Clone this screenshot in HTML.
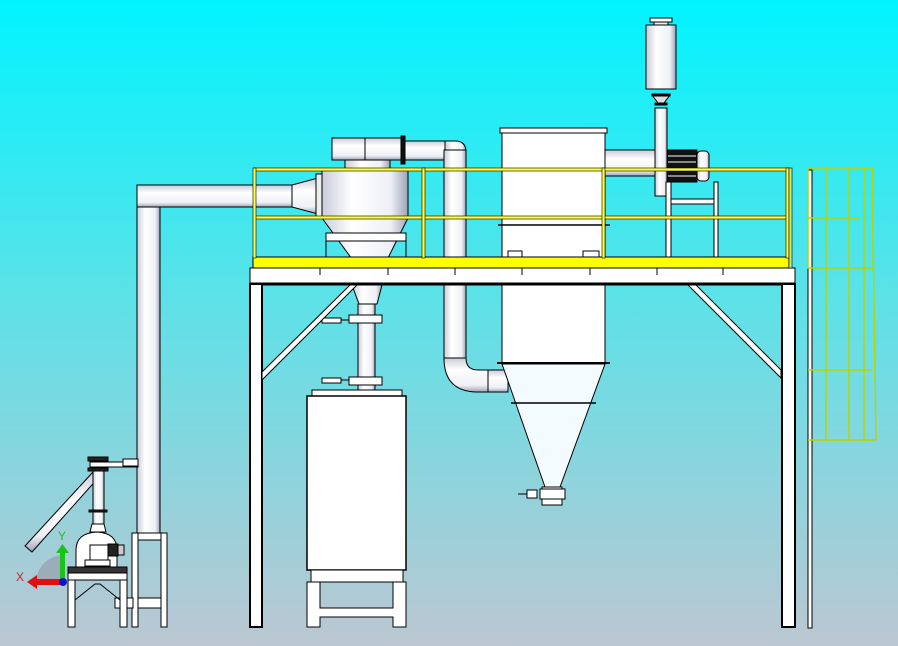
<!DOCTYPE html>
<html><head><meta charset="utf-8"><style>html,body{margin:0;padding:0;width:898px;height:646px;overflow:hidden}svg{display:block}</style></head><body>
<svg width="898" height="646" viewBox="0 0 898 646" xmlns="http://www.w3.org/2000/svg" font-family="Liberation Sans, sans-serif">
<defs>
<linearGradient id="bg" x1="0" y1="0" x2="0" y2="1">
<stop offset="0" stop-color="#00f4ff"/><stop offset="0.45" stop-color="#5ae2e8"/><stop offset="1" stop-color="#bcc7d2"/></linearGradient>
<linearGradient id="cylV" x1="0" y1="0" x2="1" y2="0">
<stop offset="0" stop-color="#c9ccd8"/><stop offset="0.35" stop-color="#ffffff"/><stop offset="0.8" stop-color="#eef0f6"/><stop offset="1" stop-color="#9ea2b4"/></linearGradient>
<linearGradient id="cylH" x1="0" y1="0" x2="0" y2="1">
<stop offset="0" stop-color="#c9ccd8"/><stop offset="0.35" stop-color="#ffffff"/><stop offset="0.8" stop-color="#eef0f6"/><stop offset="1" stop-color="#9ea2b4"/></linearGradient>
</defs>
<rect width="898" height="646" fill="url(#bg)"/>
<g stroke="#000" stroke-width="1">
<!-- left big pipe -->
<rect x="137" y="185" width="23" height="350" fill="url(#cylV)"/>
<rect x="137" y="185" width="155" height="22" fill="url(#cylH)"/>
<path d="M292 185 L318 178 L318 214 L292 207 Z" fill="url(#cylH)"/>
<rect x="316" y="174" width="6" height="44" fill="#eee"/>
<rect x="132" y="533" width="35" height="7" fill="#fff"/>
<rect x="132" y="533" width="6" height="94" fill="#fff"/><rect x="161" y="533" width="6" height="94" fill="#fff"/>
<rect x="138" y="598" width="23" height="10" fill="#fff"/>
<rect x="115" y="598" width="18" height="10" fill="#fff"/>
<!-- small mill -->
<path d="M25 546 L93 472 L99 477 L32 552 Z" fill="url(#cylH)"/>
<rect x="93" y="470" width="11" height="55" fill="url(#cylV)"/>
<rect x="88" y="457" width="20" height="4" fill="#222"/><rect x="88" y="468" width="20" height="3" fill="#222"/>
<rect x="90" y="462" width="48" height="5" fill="#fff"/><rect x="123" y="459" width="15" height="7" fill="#fff"/>
<rect x="89" y="510" width="18" height="2" fill="#222"/>
<path d="M92 524 L104 524 L106 532 L90 532 Z" fill="#fff"/>
<path d="M76 568 L76 550 Q76 533 97 532 Q117 533 117 550 L117 568 Z" fill="#fff"/>
<rect x="90" y="545" width="18" height="15" fill="#fff"/><rect x="85" y="560" width="25" height="6" fill="#fff"/>
<rect x="108" y="544" width="10" height="12" fill="#222"/><rect x="118" y="545" width="6" height="10" fill="#ccc"/>
<rect x="68" y="567" width="59" height="6" fill="#333"/>
<rect x="68" y="573" width="59" height="7" fill="#fff"/>
<rect x="68" y="580" width="7" height="47" fill="#fff"/><rect x="120" y="580" width="7" height="47" fill="#fff"/>
<path d="M75 600 L95 584 L100 584 L120 600" fill="none"/>
<!-- small cyclone -->
<rect x="332" y="138" width="70" height="22" fill="url(#cylH)"/>
<line x1="365" y1="138" x2="365" y2="160"/>
<rect x="345" y="160" width="45" height="10" fill="url(#cylV)"/>
<rect x="402" y="141" width="43" height="19" fill="url(#cylH)"/>
<rect x="401" y="136" width="4" height="28" fill="#111"/>
<path d="M445 141 L455 141 Q466 141 466 152 L466 345 L445 345 Z" fill="url(#cylV)"/>
<rect x="444" y="150" width="22" height="210" fill="url(#cylV)"/>
<path d="M444 358 L466 358 Q466 370 478 370 L500 370 L500 392 L478 392 Q444 392 444 358 Z" fill="url(#cylH)"/>
<rect x="488" y="370" width="20" height="22" fill="url(#cylH)"/>
<path d="M322 170 L408 170 L408 218 L382 270 L360 270 L322 218 Z" fill="url(#cylV)"/>
<rect x="326" y="233" width="80" height="8" fill="#fff"/>
<line x1="326" y1="241" x2="326" y2="257"/><line x1="406" y1="241" x2="406" y2="257"/>
<path d="M352 285 L382 285 L377 304 L359 304 Z" fill="url(#cylV)"/>
<rect x="358" y="304" width="17" height="90" fill="url(#cylV)"/>
<rect x="349" y="315" width="33" height="8" fill="#fff"/><rect x="322" y="318" width="19" height="5" fill="#fff"/><line x1="341" y1="320" x2="349" y2="320"/>
<rect x="349" y="377" width="33" height="8" fill="#fff"/><rect x="322" y="378" width="19" height="5" fill="#fff"/><line x1="341" y1="380" x2="349" y2="380"/>
<!-- bin -->
<rect x="312" y="390" width="90" height="6" fill="#fff"/>
<rect x="307" y="396" width="99" height="174" fill="#fff" stroke-width="1.5"/>
<rect x="311" y="570" width="92" height="12" fill="#fff"/>
<path d="M307 582 L320 582 L320 608 L393 608 L393 582 L406 582 L406 627 L393 627 L393 617 L320 617 L320 627 L307 627 Z" fill="#fff"/>
<!-- bag filter -->
<rect x="502" y="128" width="103" height="236" fill="#fff"/>
<rect x="500" y="128" width="107" height="5" fill="#fff"/>
<line x1="498" y1="225" x2="610" y2="225" stroke-width="1.5"/>
<rect x="508" y="251" width="14" height="6" fill="#fff"/><rect x="583" y="251" width="16" height="6" fill="#fff"/>
<path d="M502 364 L605 364 L560 487 L545 487 Z" fill="#f4fbff"/>
<line x1="497" y1="363" x2="610" y2="363" stroke-width="2"/>
<line x1="511" y1="403" x2="596" y2="403" stroke-width="1.5"/>
<rect x="542" y="487" width="20" height="18" fill="#fff"/>
<rect x="540" y="489" width="25" height="10" fill="#fff"/>
<rect x="527" y="490" width="10" height="8" fill="#fff"/><line x1="518" y1="494" x2="527" y2="494"/>
<!-- fan -->
<rect x="605" y="150" width="52" height="26" fill="url(#cylH)"/>
<rect x="655" y="108" width="12" height="88" fill="url(#cylV)"/>
<rect x="667" y="150" width="30" height="32" fill="#111"/>
<g stroke="#fff" stroke-width="1"><line x1="668" y1="156" x2="696" y2="156"/><line x1="668" y1="162" x2="696" y2="162"/><line x1="668" y1="170" x2="696" y2="170"/><line x1="668" y1="176" x2="696" y2="176"/></g>
<rect x="697" y="151" width="12" height="30" rx="4" fill="url(#cylV)"/>
<rect x="666" y="199" width="52" height="5" fill="#fff"/>
<rect x="666" y="182" width="5" height="75" fill="#fff"/><rect x="714" y="182" width="4" height="75" fill="#fff"/>
<!-- silencer -->
<rect x="650" y="18" width="22" height="4" fill="#fff"/>
<rect x="654" y="22" width="14" height="4" fill="#eee"/>
<rect x="646" y="25" width="30" height="64" fill="url(#cylV)"/>
<path d="M652 95 L670 95 L664 103 L658 103 Z" fill="#ddd"/>
<rect x="652" y="94" width="18" height="2" fill="#111"/><rect x="655" y="103" width="12" height="2" fill="#111"/>
<!-- platform structure -->
<rect x="250" y="268" width="545" height="15" fill="#fff"/>
<line x1="250" y1="284" x2="795" y2="284" stroke-width="3"/>
<line x1="320" y1="268" x2="320" y2="275"/><line x1="388" y1="268" x2="388" y2="275"/><line x1="455" y1="268" x2="455" y2="275"/><line x1="522" y1="268" x2="522" y2="275"/><line x1="590" y1="268" x2="590" y2="275"/><line x1="657" y1="268" x2="657" y2="275"/><line x1="723" y1="268" x2="723" y2="275"/>
<rect x="250" y="284" width="12" height="343" fill="#fff" stroke-width="2"/>
<rect x="782" y="284" width="13" height="343" fill="#fff" stroke-width="2"/>
<path d="M262 372 L350 285 L357 285 L262 380 Z" fill="#fff"/>
<path d="M688 285 L696 285 L781 370 L781 378 Z" fill="#fff"/>
<rect x="253" y="257" width="536" height="11" fill="#ffff00"/>
</g>
<!-- ladder rails -->
<g stroke="#000" stroke-width="1" fill="#fff">
<rect x="808" y="170" width="4" height="458"/>
</g>
<g stroke="#b8d400" stroke-width="1.5" fill="none">
<rect x="808" y="168" width="65" height="100"/>
<line x1="826" y1="168" x2="826" y2="440"/><line x1="849" y1="168" x2="849" y2="440"/><line x1="864" y1="168" x2="864" y2="440"/><line x1="872" y1="168" x2="876" y2="440"/>
<line x1="808" y1="370" x2="872" y2="370"/><line x1="808" y1="440" x2="876" y2="440"/>
<line x1="808" y1="218" x2="860" y2="218"/>
</g>
<!-- yellow railings -->
<g stroke="#000" stroke-width="0.6" fill="#ffff40">
<rect x="254" y="168" width="535" height="3"/>
<rect x="254" y="216" width="535" height="3"/>
<rect x="253" y="168" width="3" height="90"/><rect x="422" y="168" width="3" height="90"/><rect x="602" y="168" width="3" height="90"/><rect x="786" y="168" width="3" height="90"/>
<rect x="789" y="168" width="3" height="100" fill="#c8f060"/>
</g>
<!-- axis triad -->
<path d="M36 583 A28 28 0 0 1 62 555 L62 583 Z" fill="#9aa4b0" opacity="0.8"/>
<rect x="60" y="552" width="5" height="30" fill="#1ac21a"/>
<path d="M56 553 L62.5 544 L69 553 Z" fill="#1ac21a"/>
<rect x="36" y="579" width="26" height="6" fill="#e01010"/>
<path d="M37 575 L27 582 L37 589 Z" fill="#e01010"/>
<circle cx="63" cy="582" r="4" fill="#1010d0"/>
<text x="16" y="581" font-size="12" fill="#d02020">X</text>
<text x="58" y="540" font-size="12" fill="#20c020">Y</text>
</svg>
</body></html>
